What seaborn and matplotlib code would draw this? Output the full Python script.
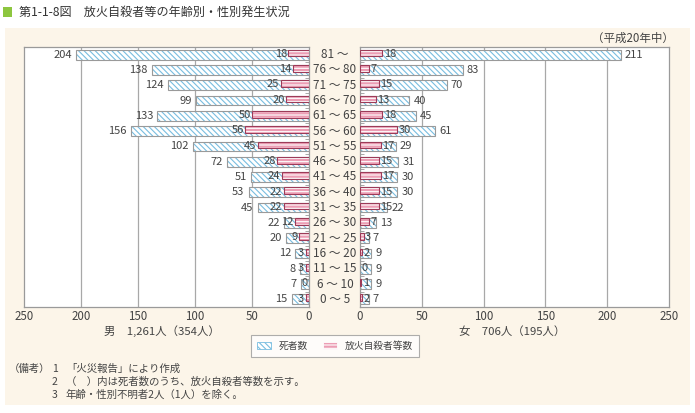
import numpy as np
import pandas as pd
import matplotlib.pyplot as plt
import seaborn as sns
from matplotlib.patches import Rectangle, Patch
from matplotlib.transforms import blended_transform_factory

# Age groups, top to bottom
ages = ['81 ～', '76 ～ 80', '71 ～ 75', '66 ～ 70', '61 ～ 65', '56 ～ 60',
        '51 ～ 55', '46 ～ 50', '41 ～ 45', '36 ～ 40', '31 ～ 35', '26 ～ 30',
        '21 ～ 25', '16 ～ 20', '11 ～ 15', '6 ～ 10', '0 ～ 5']

male_deaths = [204, 138, 124, 99, 133, 156, 102, 72, 51, 53, 45, 22, 20, 12, 8, 7, 15]
male_arson = [18, 14, 25, 20, 50, 56, 45, 28, 24, 22, 22, 12, 9, 3, 3, 0, 3]
female_deaths = [211, 83, 70, 40, 45, 61, 29, 31, 30, 30, 22, 13, 7, 9, 9, 9, 7]
female_arson = [18, 7, 15, 13, 18, 30, 17, 15, 17, 15, 15, 7, 3, 2, 0, 1, 2]

x_ticks = [0, 50, 100, 150, 200, 250]

cream = '#fcf5e9'
blue = '#78bde0'
pink = '#ec9db4'
pink_edge = '#9c3b58'
grey = '#9a9a9a'
text_col = '#444444'

sns.set_theme(style='white')
plt.rcParams['font.family'] = ['Noto Sans CJK JP', 'DejaVu Sans']
plt.rcParams['hatch.linewidth'] = 0.8

W, H = 695, 413
fig = plt.figure(figsize=(W / 100, H / 100), dpi=100)
fig.patch.set_facecolor('white')

# cream panel and title
fig.patches.append(Rectangle((5 / W, 1 - 405 / H), 685 / W, 377 / H,
                             transform=fig.transFigure, facecolor=cream,
                             edgecolor='none', zorder=-10))
fig.patches.append(Rectangle((3 / W, 1 - 17 / H), 9 / W, 10 / H,
                             transform=fig.transFigure, facecolor='#8dc63f',
                             edgecolor='none', zorder=-5))
fig.text(19 / W, 1 - 12 / H, '第1-1-8図　放火自殺者等の年齢別・性別発生状況',
         fontsize=8.7, color='#333333', va='center', ha='left')
fig.text(674 / W, 1 - 38 / H, '（平成20年中）', fontsize=8.3, color=text_col,
         va='center', ha='right')

axL = fig.add_axes([24 / W, 1 - 307 / H, 285 / W, 260 / H])
axR = fig.add_axes([360 / W, 1 - 307 / H, 309 / W, 260 / H])


def draw(ax, deaths, arson, side):
    df = pd.DataFrame({'age': ages, 'deaths': deaths, 'arson': arson})

    # deaths: hatched light blue with grey outline
    sns.barplot(data=df, x='deaths', y='age', order=ages, orient='h',
                color='white', saturation=1, width=0.64, ax=ax, zorder=2)
    blue_bars = list(ax.patches)
    for p in blue_bars:
        p.set_hatch('\\\\\\\\\\\\')
        p.set_edgecolor(blue)
        p.set_linewidth(0)
    for p in blue_bars:
        ax.add_patch(Rectangle(p.get_xy(), p.get_width(), p.get_height(),
                               fill=False, edgecolor=grey, lw=0.8, zorder=3))

    # arson suicides: pink with white stripes, maroon outline
    n0 = len(ax.patches)
    sns.barplot(data=df, x='arson', y='age', order=ages, orient='h',
                color=pink, saturation=1, width=0.44, ax=ax, zorder=4)
    pink_bars = list(ax.patches)[n0:]
    for p in pink_bars:
        p.set_y(p.get_y() - 0.1)
        p.set_hatch('-----')
        p.set_edgecolor('white')
        p.set_linewidth(0)
    for p in pink_bars:
        if p.get_width() > 0:
            ax.add_patch(Rectangle(p.get_xy(), p.get_width(), p.get_height(),
                                   fill=False, edgecolor=pink_edge, lw=0.8, zorder=5))

    sgn = -1 if side == 'left' else 1
    ha = 'right' if side == 'left' else 'left'
    for i, (d, a) in enumerate(zip(deaths, arson)):
        ax.annotate(str(d), (d, i), xytext=(sgn * 3, 0), textcoords='offset points',
                    ha=ha, va='center', fontsize=8, color=text_col, zorder=6)
        ax.annotate(str(a), (a, i - 0.05), xytext=(sgn * 1, 0), textcoords='offset points',
                    ha=ha, va='center', fontsize=8, color=text_col, zorder=6)

    ax.set_xlim((250, 0) if side == 'left' else (0, 250))
    ax.set_ylim(16.5, -0.5)
    ax.set_xticks(x_ticks)
    ax.set_xticklabels([str(t) for t in x_ticks])
    ax.set_yticks([])
    ax.set_yticks(np.arange(-0.5, 17, 1), minor=True)
    ax.set_xlabel('')
    ax.set_ylabel('')
    ax.set_facecolor('white')
    for x in x_ticks[1:-1]:
        ax.axvline(x, color='#a8a8a8', lw=0.9, zorder=1)
    for s in ax.spines.values():
        s.set_color(grey)
        s.set_linewidth(0.9)
    ax.tick_params(axis='x', length=0, labelsize=8.3, labelcolor=text_col, pad=2)
    if side == 'left':
        ax.tick_params(axis='y', which='minor', left=False, right=True,
                       direction='in', length=3, color=grey, width=0.6)
    else:
        ax.tick_params(axis='y', which='minor', left=True, right=False,
                       direction='in', length=3, color=grey, width=0.6)


draw(axL, male_deaths, male_arson, 'left')
draw(axR, female_deaths, female_arson, 'right')

# age labels in the middle column
tr = blended_transform_factory(fig.transFigure, axL.transData)
for i, a in enumerate(ages):
    axL.text(335 / W, i, a, transform=tr, ha='center', va='center',
             fontsize=8.5, color=text_col, clip_on=False)

fig.text(162 / W, 1 - 331 / H, '男　1,261人（354人）', fontsize=8.2,
         color=text_col, ha='center', va='center')
fig.text(512 / W, 1 - 331 / H, '女　706人（195人）', fontsize=8.2,
         color=text_col, ha='center', va='center')

handles = [Patch(facecolor='white', edgecolor=blue, hatch='\\\\\\\\\\\\', lw=0.6),
           Patch(facecolor=pink, edgecolor='white', hatch='-----', lw=0.6)]
leg = fig.legend(handles, ['死者数', '放火自殺者等数'], ncol=2,
                 loc='center', bbox_to_anchor=(335 / W, 1 - 346 / H),
                 fontsize=7, frameon=True, fancybox=False, edgecolor=grey,
                 handlelength=1.5, handleheight=0.8, columnspacing=1.5,
                 borderpad=0.6)
leg.get_frame().set_linewidth(0.8)
for t in leg.get_texts():
    t.set_color(text_col)

notes_y = [369, 382, 395]
fig.text(9 / W, 1 - notes_y[0] / H, '（備考）', fontsize=7.5, color=text_col, va='center')
notes = ['「火災報告」により作成',
         '（　）内は死者数のうち、放火自殺者等数を示す。',
         '年齢・性別不明者2人（1人）を除く。']
for k, (y, s) in enumerate(zip(notes_y, notes)):
    fig.text(52 / W, 1 - y / H, str(k + 1), fontsize=7.5, color=text_col, va='center')
    fig.text(66 / W, 1 - y / H, s, fontsize=7.5, color=text_col, va='center')

fig.savefig('out.png', dpi=100, facecolor='white')
